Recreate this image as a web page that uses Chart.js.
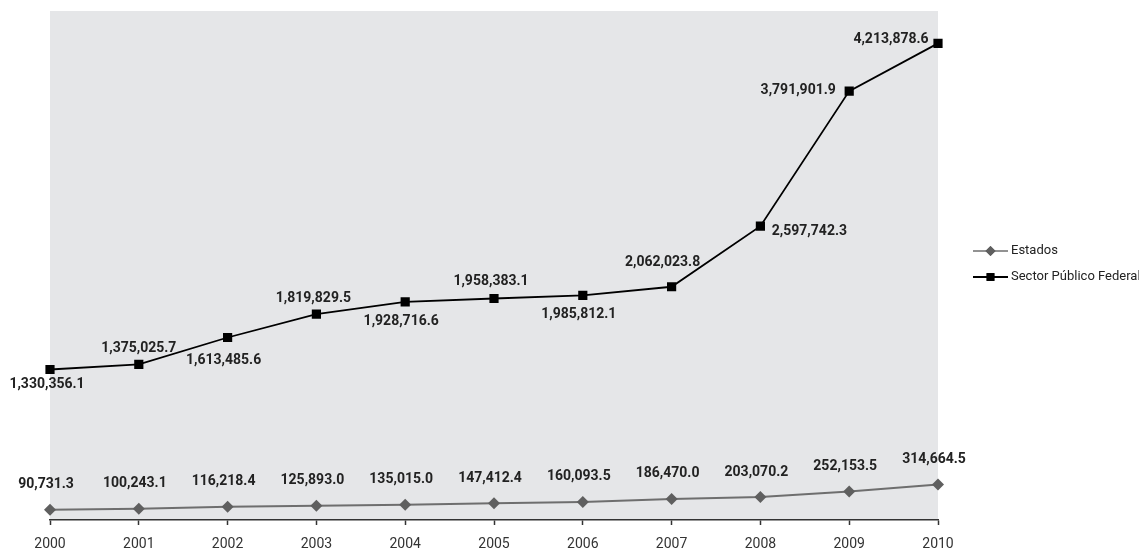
<!DOCTYPE html>
<html>
<head>
<meta charset="utf-8">
<script src="https://cdn.jsdelivr.net/npm/chart.js@4.4.1/dist/chart.umd.min.js"></script>
<style>
  body { margin: 0; background: #fff; }
  #wrap { width: 1139px; height: 550px; position: relative; }
</style>
</head>
<body>
<div id="wrap"><canvas id="deudaChart"></canvas></div>
<script>
// --- Data ---
const years = ['2000', '2001', '2002', '2003', '2004', '2005', '2006', '2007', '2008', '2009', '2010'];
const estados = [90731.3, 100243.1, 116218.4, 125893.0, 135015.0, 147412.4, 160093.5, 186470.0, 203070.2, 252153.5, 314664.5];
const sectorFederal = [1330356.1, 1375025.7, 1613485.6, 1819829.5, 1928716.6, 1958383.1, 1985812.1, 2062023.8, 2597742.3, 3791901.9, 4213878.6];

const FONT = 'Roboto, "Liberation Sans", sans-serif';

// label placement (dx, dy from the point), per dataset
const labelOffsets = [
    years.map(() => [-4, -25]),
    [[-3, 15], [0, -16], [-4, 23], [-3, -16], [-4, 20], [-3, -17], [-4, 19], [-9, -24], [49, 5], [-51, -1], [-47, -4]]
];

const fmt = v => v.toLocaleString('en-US', { minimumFractionDigits: 1, maximumFractionDigits: 1 });

// gray plot background
const plotBg = {
    id: 'plotBg',
    beforeDraw(chart) {
        const { ctx, chartArea: a } = chart;
        ctx.save();
        ctx.fillStyle = '#e5e6e8';
        ctx.fillRect(a.left, a.top, a.right - a.left, a.bottom - a.top);
        ctx.restore();
    }
};

// value labels next to each point
const valueLabels = {
    id: 'valueLabels',
    afterDatasetsDraw(chart) {
        const ctx = chart.ctx;
        ctx.save();
        ctx.font = 'bold 14px ' + FONT;
        ctx.fillStyle = '#222';
        ctx.textAlign = 'center';
        ctx.textBaseline = 'middle';
        chart.data.datasets.forEach((ds, i) => {
            chart.getDatasetMeta(i).data.forEach((pt, j) => {
                const [dx, dy] = labelOffsets[i][j];
                ctx.fillText(fmt(ds.data[j]), pt.x + dx, pt.y + dy);
            });
        });
        ctx.restore();
    }
};

// legend on the right: short line with the marker in the middle
const sideLegend = {
    id: 'sideLegend',
    afterDraw(chart) {
        const ctx = chart.ctx;
        const x0 = 973, x1 = 1008;
        const rows = [251, 277];
        ctx.save();
        chart.data.datasets.forEach((ds, i) => {
            const y = rows[i];
            ctx.strokeStyle = ds.borderColor;
            ctx.lineWidth = i === 0 ? 1.5 : 2;
            ctx.beginPath();
            ctx.moveTo(x0, y);
            ctx.lineTo(x1, y);
            ctx.stroke();
            ctx.fillStyle = ds.pointBackgroundColor;
            Chart.helpers.drawPoint(ctx, { pointStyle: ds.pointStyle, radius: ds.pointRadius - 1, borderWidth: 0 }, (x0 + x1) / 2, y);
            ctx.fill();
            ctx.fillStyle = '#222';
            ctx.font = '13px ' + FONT;
            ctx.textAlign = 'left';
            ctx.textBaseline = 'middle';
            ctx.fillText(ds.label, x1 + 3, y);
        });
        ctx.restore();
    }
};

new Chart(document.getElementById('deudaChart').getContext('2d'), {
    type: 'line',
    data: {
        labels: years,
        datasets: [
            {
                label: 'Estados',
                data: estados,
                borderColor: '#6e6e6e',
                borderWidth: 2,
                pointStyle: 'rectRot',
                pointRadius: 6,
                pointBorderWidth: 0,
                pointBackgroundColor: '#5f5f5f',
                pointBorderColor: '#5f5f5f',
                tension: 0
            },
            {
                label: 'Sector Público Federal',
                data: sectorFederal,
                borderColor: '#000',
                borderWidth: 1.8,
                pointStyle: 'rect',
                pointRadius: 6.5,
                pointBorderWidth: 0,
                pointBackgroundColor: '#000',
                pointBorderColor: '#000',
                tension: 0
            }
        ]
    },
    options: {
        responsive: true,
        maintainAspectRatio: false,
        animation: false,
        layout: { padding: { left: 50, right: 201, top: 11, bottom: 0 } },
        plugins: { legend: { display: false }, tooltip: { enabled: false } },
        scales: {
            x: {
                offset: false,
                grid: { drawOnChartArea: false, drawTicks: true, tickLength: 5, tickColor: '#333', tickWidth: 1.5 },
                border: { display: true, color: '#333', width: 1.5 },
                ticks: { color: '#333', padding: 11, font: { family: FONT, size: 14 }, maxRotation: 0, autoSkip: false },
                afterFit(scale) { scale.height = 30; }
            },
            y: { display: false, min: 0, max: 4500000 }
        }
    },
    plugins: [plotBg, valueLabels, sideLegend]
});
</script>
</body>
</html>
